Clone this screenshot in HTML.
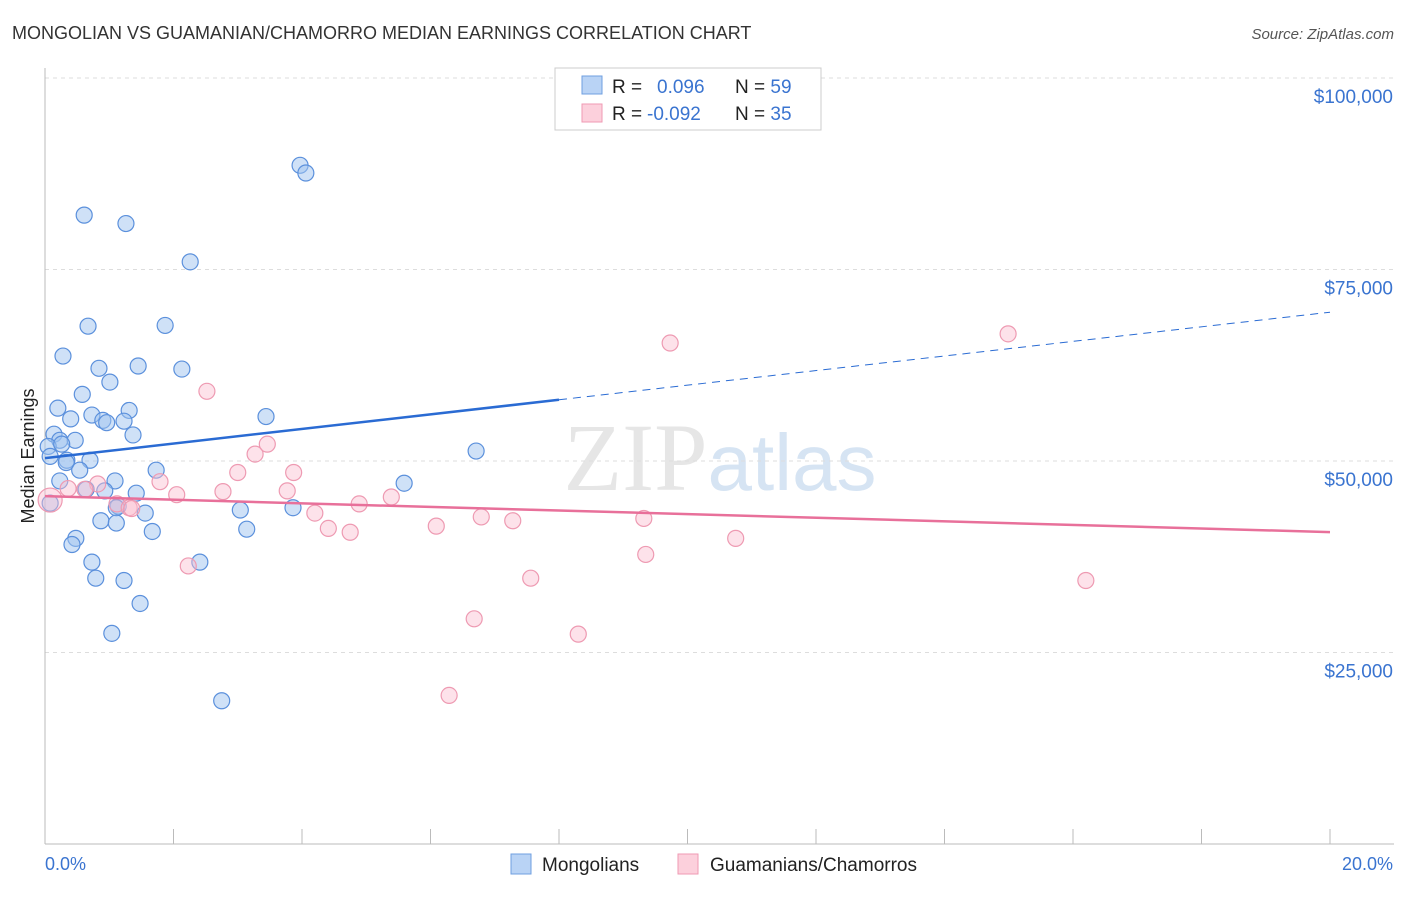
<!DOCTYPE html>
<html><head><meta charset="utf-8"><style>
body{margin:0;background:#fff;font-family:"Liberation Sans",sans-serif}
</style></head><body>
<svg id="chart" width="1406" height="892" xmlns="http://www.w3.org/2000/svg" font-family="Liberation Sans, sans-serif">
<text x="12" y="39" font-size="18" fill="#333">MONGOLIAN VS GUAMANIAN/CHAMORRO MEDIAN EARNINGS CORRELATION CHART</text>
<text x="1394" y="39" font-size="15" fill="#555" font-style="italic" text-anchor="end">Source: ZipAtlas.com</text>
<text x="720" y="490" font-size="96" fill="#e6e6e6" text-anchor="middle" font-family="Liberation Serif, serif">ZIP<tspan fill="#d6e4f3" font-family="Liberation Sans, sans-serif" font-size="80">atlas</tspan></text>
<g id="grid"></g><g id="axes"></g><g id="pts"></g><g id="lines"></g>
<text transform="translate(34,456) rotate(-90)" font-size="18" fill="#222" text-anchor="middle">Median Earnings</text>
<text x="45" y="870" font-size="18" fill="#3a74d0">0.0%</text>
<text x="1393" y="870" font-size="18" fill="#3a74d0" text-anchor="end">20.0%</text>
<g>
<rect x="555" y="68" width="266" height="62" fill="#fff" stroke="#ccc"/>
<rect x="582" y="76" width="20" height="18" fill="#b9d3f5" stroke="#6f9fe0"/>
<rect x="582" y="104" width="20" height="18" fill="#fcd0dc" stroke="#ef9ab3"/>
<text x="612" y="93" font-size="19" fill="#222">R =  <tspan fill="#3a74d0" x="657">0.096</tspan><tspan fill="#222" x="735">N = </tspan><tspan fill="#3a74d0">59</tspan></text>
<text x="612" y="120" font-size="19" fill="#222">R = <tspan fill="#3a74d0" x="647">-0.092</tspan><tspan fill="#222" x="735">N = </tspan><tspan fill="#3a74d0">35</tspan></text>
</g>
<g>
<rect x="511" y="854" width="20" height="20" fill="#b9d3f5" stroke="#6f9fe0"/>
<text x="542" y="871" font-size="19" fill="#222">Mongolians</text>
<rect x="678" y="854" width="20" height="20" fill="#fcd0dc" stroke="#ef9ab3"/>
<text x="710" y="871" font-size="19" fill="#222">Guamanians/Chamorros</text>
</g>
</svg>
<script>
const yTicks=[25000,50000,75000,100000];
const yTickLabels=["$25,000","$50,000","$75,000","$100,000"];
const blueX=[0.61,1.26,3.97,4.06,2.26,0.67,1.87,0.28,0.84,1.45,2.13,1.01,0.58,0.2,0.73,1.31,0.4,0.9,0.96,1.23,3.44,1.37,0.14,0.23,0.47,0.05,0.26,0.34,0.7,0.08,0.33,0.54,1.73,6.71,5.59,0.23,0.64,1.09,0.93,1.42,1.14,1.11,1.56,3.04,3.86,0.87,1.11,1.67,3.14,0.48,0.42,0.73,2.41,0.79,1.23,1.48,1.04,2.75,0.08];
const blueY=[82100,81000,88600,87600,76000,67600,67700,63700,62100,62400,62000,60300,58700,56900,56000,56600,55500,55300,55000,55200,55800,53400,53500,52700,52700,51900,52200,50100,50100,50600,49800,48800,48800,51300,47100,47400,46300,47400,46100,45800,44100,43900,43200,43600,43900,42200,41900,40800,41100,39900,39100,36800,36800,34700,34400,31400,27500,18700,44500];
const pinkX=[0.08,0.36,0.82,1.79,2.05,1.12,1.31,2.52,3.0,3.27,3.46,3.87,3.77,2.77,2.23,4.2,4.41,4.75,4.89,5.39,6.09,6.79,7.28,7.56,6.68,6.29,8.3,9.35,9.32,9.73,10.75,14.99,16.2,0.62,1.35];
const pinkY=[44900,46400,47000,47300,45600,44400,43900,59100,48500,50900,52200,48500,46100,46000,36300,43200,41200,40700,44400,45300,41500,42700,42200,34700,29400,19400,27400,37800,42500,65400,39900,66600,34400,46300,43800];
const blueTrend=[50373,69426], pinkTrend=[45414,40716];
const X=p=>45+p*64.25, Y=v=>844-v/25000*191.5;
const NS="http://www.w3.org/2000/svg";
function mk(tag,attrs,parent){const e=document.createElementNS(NS,tag);for(const k in attrs)e.setAttribute(k,attrs[k]);document.getElementById(parent).appendChild(e);return e;}
yTicks.forEach((t,i)=>{
 const g=mk('line',{x1:45,x2:1394,y1:Y(t),y2:Y(t),stroke:'#ddd','stroke-dasharray':'4,4'},'grid');
 
 
 const tx=mk('text',{x:1393,y:Y(t)+25,'font-size':19,fill:'#3a74d0','text-anchor':'end'},'grid');tx.textContent=yTickLabels[i];
 
 
});
const ax=mk('line',{x1:45,x2:45,y1:68,y2:844,stroke:'#bbb'},'axes');


const bx=mk('line',{x1:45,x2:1394,y1:844,y2:844,stroke:'#bbb'},'axes');


for(let p=0;p<=20;p+=2){const t=mk('line',{x1:X(p),x2:X(p),y1:829,y2:844,stroke:'#bbb'},'axes');
 
 }
blueX.forEach((x,i)=>{const c=mk('circle',{cx:X(x),cy:Y(blueY[i]),r:8,fill:'rgba(160,196,240,0.5)',stroke:'#5b90dc','stroke-width':1.2},'pts');
 
 });
pinkX.forEach((x,i)=>{const c=mk('circle',{cx:X(x),cy:Y(pinkY[i]),r:i==0?12:8,fill:'rgba(250,190,208,0.45)',stroke:'#ee9ab2','stroke-width':1.2},'pts');
 
 });
const bAt=p=>blueTrend[0]+(blueTrend[1]-blueTrend[0])*p/20;
const l1=mk('line',{x1:X(0),y1:Y(bAt(0)),x2:X(8),y2:Y(bAt(8)),stroke:'#2a6bd3','stroke-width':2.5},'lines');


const l2=mk('line',{x1:X(8),y1:Y(bAt(8)),x2:X(20),y2:Y(bAt(20)),stroke:'#2a6bd3','stroke-width':1,'stroke-dasharray':'8,6'},'lines');


const l3=mk('line',{x1:X(0),y1:Y(pinkTrend[0]),x2:X(20),y2:Y(pinkTrend[1]),stroke:'#e8709a','stroke-width':2.5},'lines');


</script>
</body></html>
